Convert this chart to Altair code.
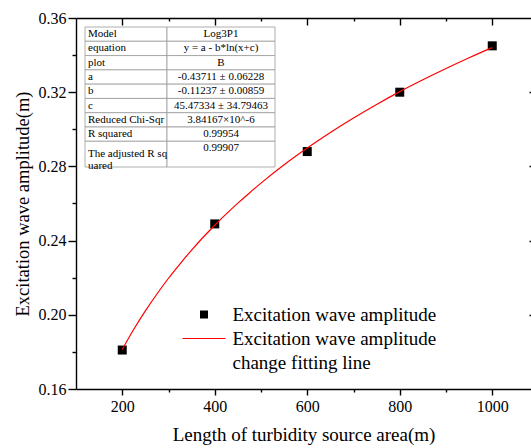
import altair as alt
import pandas as pd

# ---------------- data ----------------
x_len = [200, 400, 600, 800, 1000]
amplitude = [0.181, 0.249, 0.288, 0.320, 0.345]

fit_x = [200, 225, 250, 275, 300, 325, 350, 375, 400, 425, 450, 475, 500,
         550, 600, 650, 700, 750, 800, 850, 900, 950, 1000]
fit_y = [0.1813, 0.1922, 0.2021, 0.2112, 0.2197, 0.2275, 0.2349, 0.2418,
         0.2483, 0.2544, 0.2602, 0.2657, 0.2710, 0.2809, 0.2899, 0.2983,
         0.3061, 0.3134, 0.3203, 0.3267, 0.3328, 0.3386, 0.3441]

x_major = [200, 400, 600, 800, 1000]
x_minor = [300, 500, 700, 900]
y_major = [0.16, 0.20, 0.24, 0.28, 0.32, 0.36]
y_minor = [0.18, 0.22, 0.26, 0.30, 0.34]

table_labels = ["Model", "equation", "plot", "a", "b", "c",
                "Reduced Chi-Sqr", "R squared", "The adjusted R sq\nuared"]
table_values = ["Log3P1", "y = a - b*ln(x+c)", "B", "-0.43711 ± 0.06228",
                "-0.11237 ± 0.00859", "45.47334 ± 34.79463", "3.84167×10^-6",
                "0.99954", "0.99907"]

legend_keys = ["A", "B", "C"]
legend_labels = ["Excitation wave amplitude", "Excitation wave amplitude",
                 "change fitting line"]

x_title = "Length of turbidity source area(m)"
y_title = "Excitation wave amplitude(m)"

# ---------------- layout / style ----------------
FONT = "Liberation Serif, Times New Roman, DejaVu Serif, serif"
W, H = 455, 371
X_DOM = [100, 100 + W / 0.4625]
Y_DOM = [0.16, 0.36]
LINE_PATH = "M-5.4,-0.15H5.4V0.15H-5.4Z"


def xsc():
    return alt.Scale(domain=X_DOM, nice=False, zero=False)


def ysc():
    return alt.Scale(domain=Y_DOM, nice=False, zero=False)


pts_df = pd.DataFrame({"x": x_len, "y": amplitude, "series": "A"})
fit_df = pd.DataFrame({"x": fit_x, "y": fit_y})

label_expr = " : ".join(
    f"datum.value == '{k}' ? '{t}'" for k, t in zip(legend_keys[:-1], legend_labels[:-1])
) + f" : '{legend_labels[-1]}'"

leg = alt.Legend(title=None, orient="none", legendX=118.5, legendY=287,
                 labelExpr=label_expr, labelFont=FONT, labelFontSize=19,
                 labelColor="black", symbolSize=64, labelOffset=19,
                 rowPadding=4, padding=0, labelLimit=0, symbolStrokeWidth=0)

points = alt.Chart(pts_df).mark_point(filled=True, size=81, opacity=1).encode(
    x=alt.X("x:Q", scale=xsc(), axis=alt.Axis(
        orient="bottom", values=x_major, title=x_title, tickSize=6,
        labelFontSize=16, titleFontSize=19, labelPadding=3, titlePadding=11,
        format="d")),
    y=alt.Y("y:Q", scale=ysc(), axis=alt.Axis(
        orient="left", values=y_major, title=y_title, tickSize=8, format=".2f",
        labelFontSize=16, titleFontSize=18.5, labelPadding=2, titlePadding=6)),
    color=alt.Color("series:N", scale=alt.Scale(
        domain=legend_keys, range=["#000000", "#ff0000", "rgba(0,0,0,0)"]), legend=leg),
    shape=alt.Shape("series:N", scale=alt.Scale(
        domain=legend_keys, range=["square", LINE_PATH, "square"]), legend=leg),
)

line = alt.Chart(fit_df).mark_line(color="#ff0000", strokeWidth=1.2,
                                   interpolate="monotone").encode(
    x=alt.X("x:Q", scale=xsc(), axis=alt.Axis(
        orient="bottom", values=x_minor, labels=False, domain=False,
        tickSize=3, title=None)),
    y=alt.Y("y:Q", scale=ysc(), axis=alt.Axis(
        orient="left", values=y_minor, labels=False, domain=False,
        tickSize=4, title=None)),
)

frame_top = alt.Chart(pts_df).mark_point(opacity=0).encode(
    x=alt.X("x:Q", scale=xsc(), axis=alt.Axis(
        orient="top", labels=False, ticks=False, domain=True, title=None)),
    y=alt.Y("y:Q", scale=ysc(), axis=alt.Axis(
        orient="right", values=y_major[1:-1], labels=False, domain=False,
        tickSize=2, offset=-2, title=None)),
)

top_major = alt.Chart(pts_df).mark_point(opacity=0).encode(
    x=alt.X("x:Q", scale=xsc(), axis=alt.Axis(
        orient="top", values=x_major, labels=False, domain=False,
        tickSize=7, offset=-7, title=None)),
    y=alt.Y("y:Q", scale=ysc(), axis=None),
)

top_minor = alt.Chart(pts_df).mark_point(opacity=0).encode(
    x=alt.X("x:Q", scale=xsc(), axis=alt.Axis(
        orient="top", values=x_minor, labels=False, domain=False,
        tickSize=3, offset=-3, title=None)),
    y=alt.Y("y:Q", scale=ysc(), axis=None),
)

# ---------------- fit table ----------------
rows = []
start = 0.0
for lab, val in zip(table_labels, table_values):
    n = lab.count("\n") + 1
    end = start + 1 + 0.8 * (n - 1)
    rows.append({"label": lab, "value": val, "r0": start, "r1": end,
                 "rmid": (start + end) / 2, "rtop": start + 0.5})
    start = end
tab_df = pd.DataFrame(rows)
cells = pd.concat([
    tab_df.assign(c0=0, c1=1),
    tab_df.assign(c0=1, c1=2),
])

TX = alt.Scale(domain=[0, 1, 2], range=[9, 91, 199])
TY = alt.Scale(domain=[0, start], range=[9, 149])

tab_rect = alt.Chart(cells).mark_rect(fill="white", stroke="#9a9a9a",
                                      strokeWidth=0.8).encode(
    x=alt.X("c0:Q", scale=TX, axis=None), x2="c1:Q",
    y=alt.Y("r0:Q", scale=TY, axis=None), y2="r1:Q",
)

tab_lab = alt.Chart(tab_df).transform_calculate(c="0").mark_text(
    align="left", baseline="middle", dx=3, font=FONT, fontSize=11,
    color="black", lineBreak="\n", lineHeight=11.6).encode(
    x=alt.X("c:Q", scale=TX, axis=None),
    y=alt.Y("rmid:Q", scale=TY, axis=None),
    text="label:N",
)

tab_val = alt.Chart(tab_df).transform_calculate(c="1.5").mark_text(
    align="center", baseline="middle", font=FONT, fontSize=11,
    color="black").encode(
    x=alt.X("c:Q", scale=TX, axis=None),
    y=alt.Y("rtop:Q", scale=TY, axis=None),
    text="value:N",
)

chart = alt.layer(
    points, line, frame_top, top_major, top_minor, tab_rect, tab_lab, tab_val
).resolve_scale(x="independent", y="independent").properties(
    width=W, height=H,
    autosize=alt.AutoSizeParams(type="none"),
    padding={"left": 76, "top": 18, "right": 0, "bottom": 59},
    background="white",
).configure_view(stroke=None).configure_axis(
    domainColor="black", tickColor="black", labelColor="black",
    titleColor="black", labelFont=FONT, titleFont=FONT, grid=False,
    domainWidth=1.4, tickWidth=1.4, titleFontWeight="normal",
)

chart.save("out.html", embed_options={"renderer": "svg", "actions": False})
